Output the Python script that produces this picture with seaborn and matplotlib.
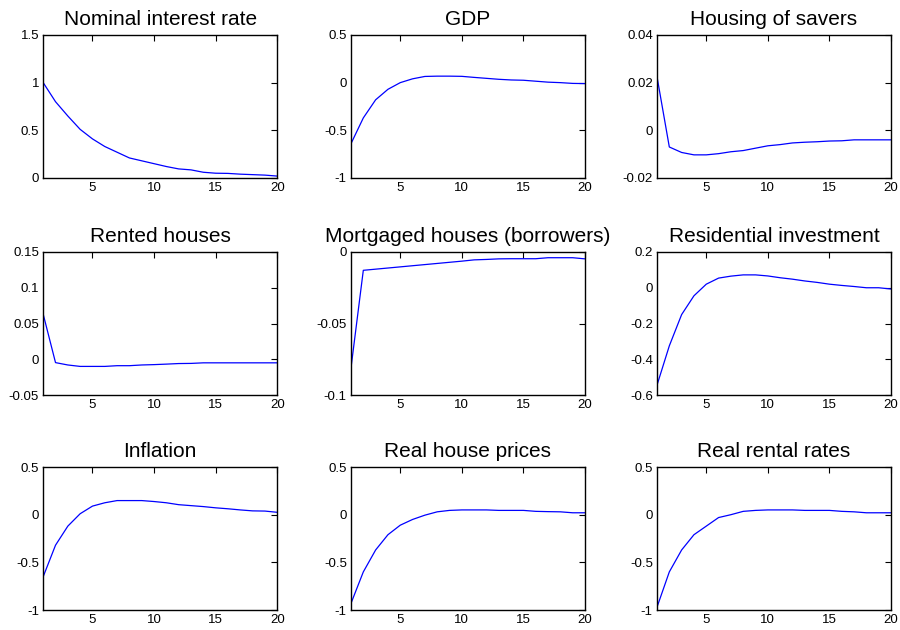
import matplotlib
matplotlib.use("Agg")
import matplotlib.pyplot as plt
import numpy as np
import pandas as pd
import seaborn as sns

sns.set_theme(style="white")
plt.rcParams["font.family"] = ["Liberation Sans", "DejaVu Sans"]

periods = list(range(1, 21))

nominal_rate = [1.0, 0.80, 0.65, 0.51, 0.41, 0.33, 0.27, 0.21, 0.18, 0.15,
                0.12, 0.095, 0.085, 0.06, 0.05, 0.048, 0.04, 0.035, 0.03, 0.02]
gdp = [-0.64, -0.37, -0.18, -0.07, 0.0, 0.04, 0.065, 0.068, 0.068, 0.066,
       0.055, 0.045, 0.035, 0.028, 0.025, 0.015, 0.005, 0.0, -0.008, -0.01]
housing_savers = [0.0225, -0.007, -0.0093, -0.0103, -0.0103, -0.0098, -0.009,
                  -0.0085, -0.0075, -0.0065, -0.006, -0.0053, -0.005, -0.0048,
                  -0.0045, -0.0044, -0.004, -0.004, -0.004, -0.004]
rented_houses = [0.063, -0.0047, -0.008, -0.01, -0.01, -0.01, -0.009, -0.009,
                 -0.008, -0.0075, -0.0068, -0.006, -0.0058, -0.005, -0.005,
                 -0.005, -0.005, -0.005, -0.005, -0.005]
mortgaged_houses = [-0.081, -0.0128, -0.012, -0.0112, -0.0104, -0.0096, -0.0088,
                    -0.008, -0.0072, -0.0064, -0.0055, -0.0052, -0.0048, -0.0047,
                    -0.0047, -0.0047, -0.004, -0.004, -0.004, -0.0048]
residential_inv = [-0.545, -0.325, -0.15, -0.045, 0.02, 0.054, 0.065, 0.072,
                   0.072, 0.066, 0.056, 0.048, 0.038, 0.03, 0.02, 0.013, 0.007,
                   0.0, 0.0, -0.007]
inflation = [-0.65, -0.32, -0.12, 0.01, 0.09, 0.125, 0.148, 0.148, 0.148, 0.138,
             0.125, 0.105, 0.095, 0.085, 0.072, 0.062, 0.05, 0.04, 0.038, 0.025]
house_prices = [-0.93, -0.6, -0.37, -0.21, -0.11, -0.05, -0.005, 0.03, 0.045,
                0.05, 0.05, 0.05, 0.045, 0.045, 0.045, 0.035, 0.032, 0.03, 0.02, 0.02]
rental_rates = [-0.97, -0.6, -0.37, -0.21, -0.12, -0.03, 0.0, 0.035, 0.045,
                0.05, 0.05, 0.05, 0.045, 0.045, 0.045, 0.035, 0.03, 0.02, 0.02, 0.02]

titles = ["Nominal interest rate", "GDP", "Housing of savers",
          "Rented houses", "Mortgaged houses (borrowers)", "Residential investment",
          "Inflation", "Real house prices", "Real rental rates"]
series = [nominal_rate, gdp, housing_savers,
          rented_houses, mortgaged_houses, residential_inv,
          inflation, house_prices, rental_rates]
y_ticks = [
    [0, 0.5, 1, 1.5], [-1, -0.5, 0, 0.5], [-0.02, 0, 0.02, 0.04],
    [-0.05, 0, 0.05, 0.1, 0.15], [-0.1, -0.05, 0], [-0.6, -0.4, -0.2, 0, 0.2],
    [-1, -0.5, 0, 0.5], [-1, -0.5, 0, 0.5], [-1, -0.5, 0, 0.5],
]
y_labels = [
    ["0", "0.5", "1", "1.5"], ["-1", "-0.5", "0", "0.5"], ["-0.02", "0", "0.02", "0.04"],
    ["-0.05", "0", "0.05", "0.1", "0.15"], ["-0.1", "-0.05", "0"],
    ["-0.6", "-0.4", "-0.2", "0", "0.2"],
    ["-1", "-0.5", "0", "0.5"], ["-1", "-0.5", "0", "0.5"], ["-1", "-0.5", "0", "0.5"],
]
x_ticks = [5, 10, 15, 20]

fig = plt.figure(figsize=(9, 6.3), dpi=100)
fig.patch.set_facecolor("white")

col_left = [0.048, 0.39, 0.73]
row_bottom = [0.7175, 0.373, 0.0317]
ax_w, ax_h = 0.26, 0.227

for i, (title, vals) in enumerate(zip(titles, series)):
    r, c = divmod(i, 3)
    ax = fig.add_axes([col_left[c], row_bottom[r], ax_w, ax_h])
    df = pd.DataFrame({"period": periods, "value": vals})
    sns.lineplot(data=df, x="period", y="value", ax=ax, color="#0000ff",
                 linewidth=0.9)
    ax.set_xlim(1, 20)
    ax.set_ylim(y_ticks[i][0], y_ticks[i][-1])
    ax.set_xticks(x_ticks)
    ax.set_xticklabels([str(t) for t in x_ticks])
    ax.set_yticks(y_ticks[i])
    ax.set_yticklabels(y_labels[i])
    ax.set_xlabel("")
    ax.set_ylabel("")
    ax.set_title(title, fontsize=15, pad=7, color="black")
    ax.tick_params(direction="in", length=4, width=0.8, top=True, right=True,
                   labelsize=9.5, colors="black", pad=3)
    ax.set_facecolor("white")
    for sp in ax.spines.values():
        sp.set_visible(True)
        sp.set_color("black")
        sp.set_linewidth(1.0)

fig.savefig("out.png", dpi=100, facecolor="white")
